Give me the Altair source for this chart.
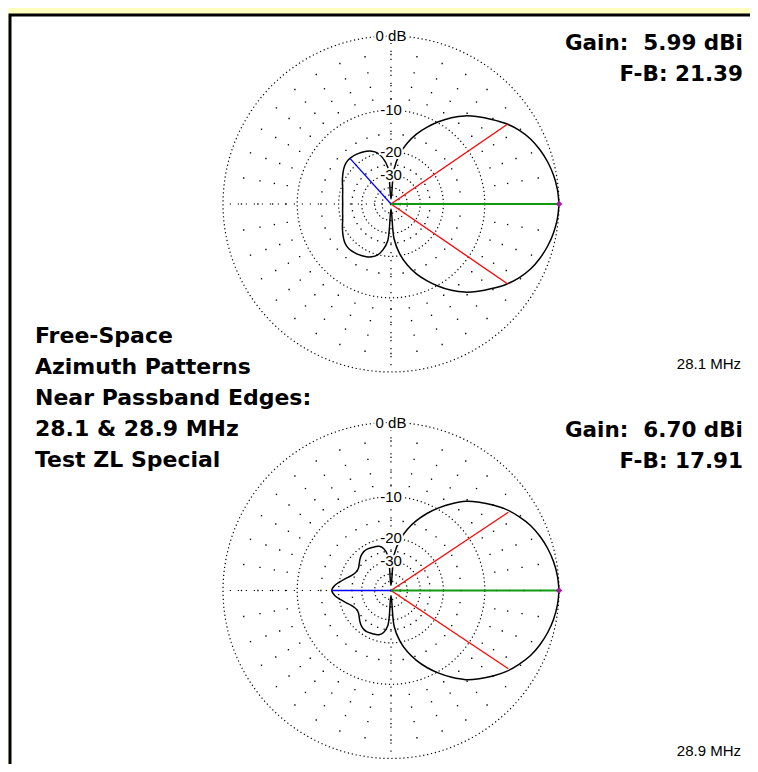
import altair as alt
import pandas as pd
import math

# ---------------- data ----------------
# Azimuth angles (deg) 0..180, patterns are symmetric about 0 deg
angles_half = list(range(0, 185, 5))
# 28.1 MHz pattern, dB relative to maximum
p1_db = [0, -0.1, -0.3, -0.6, -1.0, -1.5, -2.2, -3.1, -4.2, -5.3, -6.5, -8.0, -9.8, -11.8, -14.0, -16.8, -20.5, -27.0, -60.0,
         -26.0, -22.0, -19.8, -18.8, -18.2, -17.8, -17.5, -17.3, -17.3, -17.6, -18.2, -18.9, -19.6, -20.3, -20.8, -21.1, -21.3, -21.4]
# 28.9 MHz pattern, dB relative to maximum
p2_db = [0, -0.1, -0.3, -0.6, -1.0, -1.5, -2.2, -3.0, -4.0, -5.1, -6.3, -7.9, -9.7, -11.7, -14.0, -16.7, -20.3, -26.5, -60.0,
         -27.0, -23.5, -22.3, -22.0, -21.8, -21.6, -21.7, -22.2, -23.0, -24.0, -24.8, -25.0, -24.5, -23.5, -22.0, -20.3, -18.7, -17.9]

major_ring_db = [0, -10, -20, -30, -40, -50]
minor_ring_db = [-2, -4, -6, -8, -15, -25]
ring_labels = ["0 dB", "-10", "-20", "-30"]
ring_label_db = [0, -10, -20, -30]
spoke_angles = list(range(0, 360, 10))
axis_angles = [0, 90, 180, 270]

# cursor lines: (angle deg, dB)
halfpower = [[(34.4, -3.0), (-34.4, -3.0)], [(33.7, -3.0), (-33.7, -3.0)]]
rear_cursor = [(132.0, -17.2), (180.0, -17.9)]
max_cursor = [(0.0, 0.0), (0.0, 0.0)]

gain_text = ["Gain:\u00a0 5.99 dBi", "Gain:\u00a0 6.70 dBi"]
fb_text = ["F-B: 21.39", "F-B: 17.91"]
freq_text = ["28.1 MHz", "28.9 MHz"]
title_lines = ["Free-Space", "Azimuth Patterns", "Near Passband Edges:", "28.1 & 28.9 MHz", "Test ZL Special"]

# ---------------- layout ----------------
W, H = 742, 756
CX = 391
CY = [204, 590.5]
R = 168
SMALL_FONT = "Liberation Sans Narrow, Liberation Sans, Arial"

def rad(db):
    return R * 0.89 ** (-db / 2.0)

def xy(i, ang, db):
    r = rad(db)
    a = math.radians(ang)
    return CX + r * math.cos(a), CY[i] - r * math.sin(a)

xs = alt.Scale(domain=[8, 8 + W], nice=False, zero=False)
ys = alt.Scale(domain=[8, 8 + H], nice=False, zero=False, reverse=True)

def X(f="x"):
    return alt.X(f + ":Q", scale=xs, axis=None)

def Y(f="y"):
    return alt.Y(f + ":Q", scale=ys, axis=None)

# panel
panel = alt.Chart(pd.DataFrame({"a": [0]})).mark_rect(
    fill="white", stroke="black", strokeWidth=3
).encode(x=alt.value(2), x2=alt.value(1000), y=alt.value(7), y2=alt.value(1000))

# major rings (dotted circles)
rows = []
for i in range(2):
    for db in major_ring_db:
        for k in range(0, 361, 2):
            x, y = xy(i, k, db)
            rows.append({"x": x, "y": y, "grp": f"{i}_{db}", "ord": k})
rings = alt.Chart(pd.DataFrame(rows)).mark_line(
    color="black", strokeWidth=1.2, strokeDash=[1.2, 2.8]
).encode(x=X(), y=Y(), detail="grp:N", order="ord:Q")

# minor rings: dots where they meet the spokes
rows = []
for i in range(2):
    for db in minor_ring_db:
        for a in spoke_angles:
            x, y = xy(i, a, db)
            rows.append({"x": x, "y": y})
minor = alt.Chart(pd.DataFrame(rows)).mark_square(
    size=1.8, color="black", opacity=1
).encode(x=X(), y=Y())

# axis spokes (dotted)
rows = []
for i in range(2):
    for a in axis_angles:
        x2, y2 = xy(i, a, 0)
        rows.append({"x": CX, "y": CY[i], "x2": x2, "y2": y2})
spokes = alt.Chart(pd.DataFrame(rows)).mark_rule(
    color="black", strokeWidth=1.2, strokeDash=[1.2, 6.8]
).encode(x=X(), y=Y(), x2="x2:Q", y2="y2:Q")

# ring labels
rows = []
for i in range(2):
    for lab, db in zip(ring_labels, ring_label_db):
        x, y = xy(i, 90, db)
        rows.append({"x": x, "y": y, "t": lab})
lab_df = pd.DataFrame(rows)
lab_halo = alt.Chart(lab_df).mark_text(
    font=SMALL_FONT, fontSize=15, color="white", stroke="white", strokeWidth=4, baseline="middle"
).encode(x=X(), y=Y(), text="t:N")
lab_txt = alt.Chart(lab_df).mark_text(
    font=SMALL_FONT, fontSize=15, color="black", baseline="middle"
).encode(x=X(), y=Y(), text="t:N")

# patterns
rows = []
for i, half in enumerate([p1_db, p2_db]):
    full_ang = angles_half + [360 - a for a in reversed(angles_half[1:-1])] + [360]
    full_db = half + list(reversed(half[1:-1])) + [half[0]]
    for k, (a, db) in enumerate(zip(full_ang, full_db)):
        x, y = xy(i, a, db)
        rows.append({"x": x, "y": y, "grp": str(i), "ord": k})
pattern = alt.Chart(pd.DataFrame(rows)).mark_line(
    color="black", strokeWidth=1.5, interpolate="catmull-rom"
).encode(x=X(), y=Y(), detail="grp:N", order="ord:Q")

# cursor lines
rows = []
for i in range(2):
    for a, db in halfpower[i]:
        x2, y2 = xy(i, a, db)
        rows.append({"x": CX, "y": CY[i], "x2": x2, "y2": y2, "c": "red"})
    a, db = rear_cursor[i]
    x2, y2 = xy(i, a, db)
    rows.append({"x": CX, "y": CY[i], "x2": x2, "y2": y2, "c": "blue"})
cur_df = pd.DataFrame(rows)
cursors = alt.Chart(cur_df).mark_rule(strokeWidth=1.3).encode(
    x=X(), y=Y(), x2="x2:Q", y2="y2:Q",
    color=alt.Color("c:N", scale=alt.Scale(domain=["red", "blue"], range=["#FF0000", "#0000FF"]), legend=None)
)
rows = []
for i in range(2):
    a, db = max_cursor[i]
    x2, y2 = xy(i, a, db)
    rows.append({"x": CX, "y": CY[i], "x2": x2, "y2": y2})
max_df = pd.DataFrame(rows)
green = alt.Chart(max_df).mark_rule(color="#119911", strokeWidth=2.2).encode(
    x=X(), y=Y(), x2="x2:Q", y2="y2:Q")
marker = alt.Chart(max_df).mark_point(shape="diamond", filled=True, size=45, color="#A020A0", opacity=1).encode(
    x=X("x2"), y=Y("y2"))

# texts
rows_b = []
for i in range(2):
    rows_b.append({"x": 743, "y": CY[i] - 160, "t": gain_text[i]})
    rows_b.append({"x": 743, "y": CY[i] - 129, "t": fb_text[i]})
gain = alt.Chart(pd.DataFrame(rows_b)).mark_text(
    font="DejaVu Sans", fontWeight="bold", fontSize=21.5, align="right", baseline="middle", color="black"
).encode(x=X(), y=Y(), text="t:N")

rows_f = [{"x": 741, "y": CY[i] + 160, "t": freq_text[i]} for i in range(2)]
freq = alt.Chart(pd.DataFrame(rows_f)).mark_text(
    font=SMALL_FONT, fontSize=15, align="right", baseline="middle", color="black"
).encode(x=X(), y=Y(), text="t:N")

rows_t = [{"x": 35, "y": 336 + 31 * k, "t": t} for k, t in enumerate(title_lines)]
title = alt.Chart(pd.DataFrame(rows_t)).mark_text(
    font="DejaVu Sans", fontWeight="bold", fontSize=22, align="left", baseline="middle", color="black"
).encode(x=X(), y=Y(), text="t:N")

chart = alt.layer(
    panel, rings, minor, spokes, pattern, cursors, green, marker, lab_halo, lab_txt, gain, freq, title
).properties(
    width=W, height=H, background="#FFFFC0", padding=0,
    autosize=alt.AutoSizeParams(type="none")
).configure_view(stroke=None)

chart.save("out.html", embed_options={"renderer": "svg", "actions": False})
